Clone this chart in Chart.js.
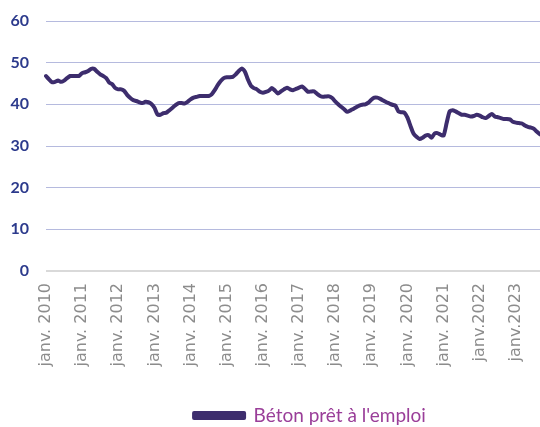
<!DOCTYPE html>
<html lang="fr">
<head>
    <meta charset="UTF-8">
    <title>Béton prêt à l'emploi</title>
    <script src="https://cdn.jsdelivr.net/npm/chart.js"></script>
    <style>
        html, body { margin: 0; padding: 0; background: #fff; }
        #wrap { width: 540px; height: 427px; }
    </style>
</head>
<body>
    <div id="wrap"><canvas id="chart"></canvas></div>

    <script>
        // données
        const moisNoms = ['janv.', 'févr.', 'mars', 'avr.', 'mai', 'juin', 'juil.', 'août', 'sept.', 'oct.', 'nov.', 'déc.'];
        const annees = [2010, 2011, 2012, 2013, 2014, 2015, 2016, 2017, 2018, 2019, 2020, 2021, 2022, 2023];
        const etiquettesAnnees = ['janv. 2010', 'janv. 2011', 'janv. 2012', 'janv. 2013', 'janv. 2014', 'janv. 2015', 'janv. 2016',
            'janv. 2017', 'janv. 2018', 'janv. 2019', 'janv. 2020', 'janv. 2021', 'janv.2022', 'janv.2023'];
        const betonPretEmploi = [
            46.8, 46.0, 45.3, 45.4, 45.7, 45.4, 45.7, 46.3, 46.8, 46.8, 46.8, 46.8,
            47.5, 47.7, 48.0, 48.5, 48.5, 47.8, 47.2, 46.8, 46.3, 45.2, 44.8, 43.9,
            43.6, 43.6, 43.2, 42.2, 41.5, 41.0, 40.8, 40.5, 40.3, 40.6, 40.5, 40.1,
            39.2, 37.6, 37.5, 37.9, 38.0, 38.6, 39.2, 39.8, 40.3, 40.3, 40.2, 40.6,
            41.2, 41.6, 41.8, 42.0, 42.0, 42.0, 42.0, 42.4, 43.4, 44.6, 45.6, 46.3,
            46.5, 46.5, 46.6, 47.2, 48.0, 48.6, 47.9, 46.0, 44.5, 43.9, 43.6, 43.0,
            42.8, 43.0, 43.3, 43.9, 43.3, 42.6, 43.1, 43.6, 44.0, 43.6, 43.4, 43.7,
            44.0, 44.3, 43.7, 43.0, 43.1, 43.1, 42.5, 42.0, 41.8, 41.9, 41.9, 41.5,
            40.7, 40.0, 39.4, 38.8, 38.2, 38.5, 38.9, 39.3, 39.7, 39.9, 40.0, 40.4,
            41.1, 41.6, 41.6, 41.3, 40.9, 40.5, 40.2, 39.9, 39.7, 38.3, 38.1, 38.0,
            36.8, 34.8, 33.0, 32.2, 31.7, 32.0, 32.5, 32.6, 32.0, 33.0, 33.1, 32.7,
            32.5, 35.5, 38.3, 38.6, 38.3, 37.9, 37.5, 37.5, 37.3, 37.1, 37.2, 37.5,
            37.3, 36.9, 36.7, 37.2, 37.7, 37.1, 36.9, 36.7, 36.5, 36.5, 36.4, 35.8,
            35.6, 35.5, 35.4, 34.9, 34.6, 34.4, 34.1, 33.4, 32.8
        ];

        // une catégorie par mois
        const mois = [];
        annees.forEach(a => moisNoms.forEach(m => mois.push(m + ' ' + a)));
        mois.length = betonPretEmploi.length;

        // décale la légende (droite + bas)
        const decalageLegende = {
            id: 'decalageLegende',
            afterLayout(chart) {
                chart.legend.left += 40;
                chart.legend.right += 40;
                chart.legend.top += 8;
                chart.legend.bottom += 8;
            }
        };

        new Chart(document.getElementById('chart'), {
            type: 'line',
            data: {
                labels: mois,
                datasets: [{
                    label: "Béton prêt à l'emploi",
                    data: betonPretEmploi,
                    borderColor: '#3d2d6d',
                    backgroundColor: '#3d2d6d',
                    borderWidth: 4,
                    borderCapStyle: 'round',
                    borderJoinStyle: 'round',
                    pointRadius: 0,
                    tension: 0.2
                }]
            },
            options: {
                responsive: true,
                maintainAspectRatio: false,
                animation: false,
                layout: { padding: { top: 21, right: 0, left: 0, bottom: 0 } },
                plugins: {
                    tooltip: { enabled: false },
                    legend: {
                        position: 'bottom',
                        labels: {
                            boxWidth: 50,
                            boxHeight: 5,
                            padding: 4,
                            color: '#9a3e99',
                            font: { family: 'Lato', size: 19 }
                        }
                    }
                },
                scales: {
                    x: {
                        grid: { display: false, drawTicks: false },
                        border: { display: false },
                        afterFit: s => { s.height = 123; s.paddingLeft = 0; s.paddingRight = 0; },
                        ticks: {
                            autoSkip: false,
                            minRotation: 90,
                            maxRotation: 90,
                            padding: 12,
                            color: '#8c8c8c',
                            font: { family: 'DejaVu Sans', size: 16 },
                            callback: (v, i) => i % 12 === 0 ? etiquettesAnnees[i / 12] : ''
                        }
                    },
                    y: {
                        min: 0,
                        max: 60,
                        border: { display: false },
                        afterFit: s => { s.width = 46; s.paddingTop = 0; s.paddingBottom = 0; },
                        grid: {
                            drawTicks: false,
                            color: c => c.tick.value === 0 ? '#d9d9d9' : '#b5bade',
                            lineWidth: c => c.tick.value === 0 ? 2 : 1
                        },
                        ticks: {
                            stepSize: 10,
                            padding: 17,
                            color: '#2c3a8c',
                            font: { family: 'Lato', size: 16, weight: 'bold' }
                        }
                    }
                }
            },
            plugins: [decalageLegende]
        });
    </script>
</body>
</html>
